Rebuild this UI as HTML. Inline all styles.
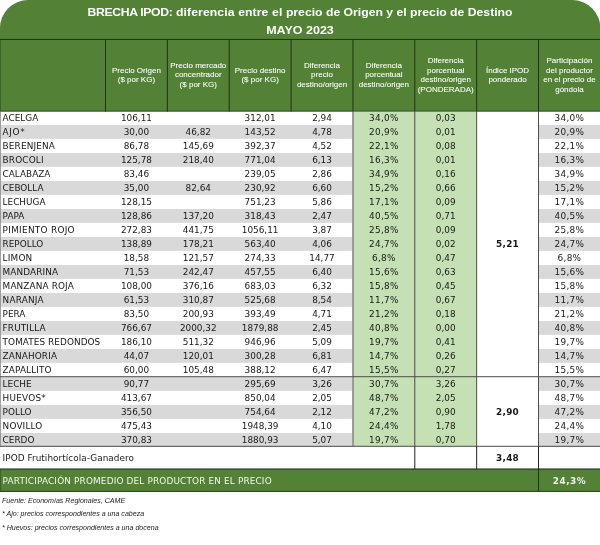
<!DOCTYPE html>
<html lang="es">
<head>
<meta charset="utf-8">
<title>BRECHA IPOD - MAYO 2023</title>
<style>
html,body{margin:0;padding:0;background:#fff;}
body{width:600px;height:545px;overflow:hidden;position:relative;font-family:"DejaVu Sans","Liberation Sans",sans-serif;}
#bg{position:absolute;left:0;top:0;width:600px;height:545px;display:block;}
.title{position:absolute;left:0;width:600px;text-align:center;color:#fff;font-family:"Liberation Sans",sans-serif;font-weight:bold;font-size:11.8px;line-height:16px;white-space:nowrap;transform:scaleX(1.035);transform-origin:300px 0;}
.h{position:absolute;display:flex;align-items:center;justify-content:center;text-align:center;top:39.2px;height:72px;color:#ffffff;font-family:"Liberation Sans",sans-serif;font-size:8.0px;line-height:9.4px;white-space:nowrap;-webkit-text-stroke:0.15px rgba(255,255,255,0.5);}
.r{position:absolute;left:0;width:600px;height:14px;line-height:14px;font-size:8.9px;color:#181818;white-space:nowrap;}
.r span{position:absolute;top:0;height:14px;text-align:center;}
.r span.n{text-align:left;padding-left:2.6px;}
.r b{font-weight:bold;letter-spacing:0.3px;}
.tot b{letter-spacing:0.5px;}
.ipod{position:absolute;left:2.6px;top:451px;font-size:8.9px;line-height:14px;color:#181818;white-space:nowrap;}
.tot{position:absolute;top:469.8px;height:22.5px;line-height:22.5px;font-size:8.9px;color:#f2f6ee;white-space:nowrap;}
.fn{position:absolute;left:2px;font-family:"Liberation Sans",sans-serif;font-style:italic;font-size:7.08px;line-height:9px;color:#222;white-space:nowrap;}
</style>
</head>
<body>
<svg id="bg" width="600" height="545" viewBox="0 0 600 545">
<path d="M0,111.6 L0,28 A28,28 0 0 1 28,0 L572.3,0 A28,28 0 0 1 600.3,28 L600.3,111.6 Z" fill="#538135"/>
<rect x="0" y="125" width="351.95" height="13.85" fill="#d9d9d9"/>
<rect x="538.5" y="125" width="61.5" height="13.85" fill="#d9d9d9"/>
<rect x="0" y="153" width="351.95" height="13.85" fill="#d9d9d9"/>
<rect x="538.5" y="153" width="61.5" height="13.85" fill="#d9d9d9"/>
<rect x="0" y="181" width="351.95" height="13.85" fill="#d9d9d9"/>
<rect x="538.5" y="181" width="61.5" height="13.85" fill="#d9d9d9"/>
<rect x="0" y="209" width="351.95" height="13.85" fill="#d9d9d9"/>
<rect x="538.5" y="209" width="61.5" height="13.85" fill="#d9d9d9"/>
<rect x="0" y="237" width="351.95" height="13.85" fill="#d9d9d9"/>
<rect x="538.5" y="237" width="61.5" height="13.85" fill="#d9d9d9"/>
<rect x="0" y="265" width="351.95" height="13.85" fill="#d9d9d9"/>
<rect x="538.5" y="265" width="61.5" height="13.85" fill="#d9d9d9"/>
<rect x="0" y="293" width="351.95" height="13.85" fill="#d9d9d9"/>
<rect x="538.5" y="293" width="61.5" height="13.85" fill="#d9d9d9"/>
<rect x="0" y="321" width="351.95" height="13.85" fill="#d9d9d9"/>
<rect x="538.5" y="321" width="61.5" height="13.85" fill="#d9d9d9"/>
<rect x="0" y="349" width="351.95" height="13.85" fill="#d9d9d9"/>
<rect x="538.5" y="349" width="61.5" height="13.85" fill="#d9d9d9"/>
<rect x="0" y="377" width="351.95" height="13.85" fill="#d9d9d9"/>
<rect x="538.5" y="377" width="61.5" height="13.85" fill="#d9d9d9"/>
<rect x="0" y="405" width="351.95" height="13.85" fill="#d9d9d9"/>
<rect x="538.5" y="405" width="61.5" height="13.85" fill="#d9d9d9"/>
<rect x="0" y="433" width="351.95" height="13.85" fill="#d9d9d9"/>
<rect x="538.5" y="433" width="61.5" height="13.85" fill="#d9d9d9"/>
<rect x="352.95" y="111.6" width="123.7" height="334.7" fill="#c5e0b4"/>
<rect x="0" y="468.9" width="600" height="22.8" fill="#538135"/>
<rect x="0" y="110.4" width="600" height="1.2" fill="#41642e"/>
<rect x="0" y="38.95" width="600" height="1" fill="#1f3516"/>
<rect x="105" y="39" width="1" height="72.6" fill="#1f3516"/>
<rect x="166.86" y="39" width="1" height="72.6" fill="#1f3516"/>
<rect x="228.7" y="39" width="1" height="72.6" fill="#1f3516"/>
<rect x="290.6" y="39" width="1" height="72.6" fill="#1f3516"/>
<rect x="352.45" y="39" width="1" height="72.6" fill="#1f3516"/>
<rect x="414.3" y="39" width="1" height="72.6" fill="#1f3516"/>
<rect x="476.15" y="39" width="1" height="72.6" fill="#1f3516"/>
<rect x="538" y="39" width="1" height="72.6" fill="#1f3516"/>
<rect x="0" y="39" width="0.7" height="72.6" fill="#1f3516" opacity="0.6"/>
<rect x="352.45" y="111.6" width="1" height="334.7" fill="#4e4e4e"/>
<rect x="414.3" y="111.6" width="1" height="334.7" fill="#4e4e4e"/>
<rect x="476.15" y="111.6" width="1" height="334.7" fill="#4e4e4e"/>
<rect x="538" y="111.6" width="1" height="334.7" fill="#4e4e4e"/>
<rect x="0" y="111.6" width="0.8" height="335.2" fill="#8a8a8a"/>
<rect x="0" y="376.2" width="600" height="1" fill="#4e4e4e"/>
<rect x="0" y="445.8" width="600" height="1" fill="#4e4e4e"/>
<rect x="414.3" y="446.3" width="1" height="22.7" fill="#222222"/>
<rect x="476.15" y="446.3" width="1" height="22.7" fill="#222222"/>
<rect x="538" y="446.3" width="1" height="22.7" fill="#222222"/>
<rect x="0" y="468.5" width="600" height="1.1" fill="#1f3516"/>
<rect x="0" y="490.9" width="600" height="0.9" fill="#1f3516"/>
<rect x="538" y="469" width="1" height="22.7" fill="#1f3516"/>
<rect x="0" y="469" width="0.7" height="22.7" fill="#1f3516" opacity="0.6"/>
</svg>
<div class="title" style="top:4.2px"><span style="letter-spacing:-0.33px">BRECHA IPOD:</span><span style="letter-spacing:0.1px"> diferencia entre el </span>precio de Origen y el precio de Destino</div>
<div class="title" style="top:22.3px;transform:scaleX(1.06)">MAYO 2023</div>
<div class="h" style="left:105.5px;width:61.86px"><div>Precio Origen<br>($ por KG)</div></div>
<div class="h" style="left:167.36px;width:61.84px"><div>Precio mercado<br>concentrador<br>($ por KG)</div></div>
<div class="h" style="left:229.2px;width:61.9px"><div>Precio destino<br>($ por KG)</div></div>
<div class="h" style="left:291.1px;width:61.85px"><div>Diferencia<br>precio<br>destino/origen</div></div>
<div class="h" style="left:352.95px;width:61.85px"><div>Diferencia<br>porcentual<br>destino/origen</div></div>
<div class="h" style="left:414.8px;width:61.85px"><div>Diferencia<br>porcentual<br>destino/origen<br>(PONDERADA)</div></div>
<div class="h" style="left:476.65px;width:61.85px"><div>Índice IPOD<br>ponderado</div></div>
<div class="h" style="left:538.5px;width:61.9px"><div>Participación<br>del productor<br>en el precio de<br>góndola</div></div>
<div class="r" style="top:111px"><span class="n" style="left:0;letter-spacing:0.000px">ACELGA</span><span style="left:105.5px;width:61.86px">106,11</span><span style="left:229.2px;width:61.9px">312,01</span><span style="left:291.1px;width:61.85px">2,94</span><span style="left:352.95px;width:61.85px;letter-spacing:0.3px">34,0%</span><span style="left:414.8px;width:61.85px">0,03</span><span style="left:538.5px;width:61.9px;letter-spacing:0.3px">34,0%</span></div>
<div class="r" style="top:125px"><span class="n" style="left:0;letter-spacing:0.659px">AJO*</span><span style="left:105.5px;width:61.86px">30,00</span><span style="left:167.36px;width:61.84px">46,82</span><span style="left:229.2px;width:61.9px">143,52</span><span style="left:291.1px;width:61.85px">4,78</span><span style="left:352.95px;width:61.85px;letter-spacing:0.3px">20,9%</span><span style="left:414.8px;width:61.85px">0,01</span><span style="left:538.5px;width:61.9px;letter-spacing:0.3px">20,9%</span></div>
<div class="r" style="top:139px"><span class="n" style="left:0;letter-spacing:0.158px">BERENJENA</span><span style="left:105.5px;width:61.86px">86,78</span><span style="left:167.36px;width:61.84px">145,69</span><span style="left:229.2px;width:61.9px">392,37</span><span style="left:291.1px;width:61.85px">4,52</span><span style="left:352.95px;width:61.85px;letter-spacing:0.3px">22,1%</span><span style="left:414.8px;width:61.85px">0,08</span><span style="left:538.5px;width:61.9px;letter-spacing:0.3px">22,1%</span></div>
<div class="r" style="top:153px"><span class="n" style="left:0;letter-spacing:0.160px">BROCOLI</span><span style="left:105.5px;width:61.86px">125,78</span><span style="left:167.36px;width:61.84px">218,40</span><span style="left:229.2px;width:61.9px">771,04</span><span style="left:291.1px;width:61.85px">6,13</span><span style="left:352.95px;width:61.85px;letter-spacing:0.3px">16,3%</span><span style="left:414.8px;width:61.85px">0,01</span><span style="left:538.5px;width:61.9px;letter-spacing:0.3px">16,3%</span></div>
<div class="r" style="top:167px"><span class="n" style="left:0;letter-spacing:0.000px">CALABAZA</span><span style="left:105.5px;width:61.86px">83,46</span><span style="left:229.2px;width:61.9px">239,05</span><span style="left:291.1px;width:61.85px">2,86</span><span style="left:352.95px;width:61.85px;letter-spacing:0.3px">34,9%</span><span style="left:414.8px;width:61.85px">0,16</span><span style="left:538.5px;width:61.9px;letter-spacing:0.3px">34,9%</span></div>
<div class="r" style="top:181px"><span class="n" style="left:0;letter-spacing:0.000px">CEBOLLA</span><span style="left:105.5px;width:61.86px">35,00</span><span style="left:167.36px;width:61.84px">82,64</span><span style="left:229.2px;width:61.9px">230,92</span><span style="left:291.1px;width:61.85px">6,60</span><span style="left:352.95px;width:61.85px;letter-spacing:0.3px">15,2%</span><span style="left:414.8px;width:61.85px">0,66</span><span style="left:538.5px;width:61.9px;letter-spacing:0.3px">15,2%</span></div>
<div class="r" style="top:195px"><span class="n" style="left:0;letter-spacing:0.000px">LECHUGA</span><span style="left:105.5px;width:61.86px">128,15</span><span style="left:229.2px;width:61.9px">751,23</span><span style="left:291.1px;width:61.85px">5,86</span><span style="left:352.95px;width:61.85px;letter-spacing:0.3px">17,1%</span><span style="left:414.8px;width:61.85px">0,09</span><span style="left:538.5px;width:61.9px;letter-spacing:0.3px">17,1%</span></div>
<div class="r" style="top:209px"><span class="n" style="left:0;letter-spacing:0.000px">PAPA</span><span style="left:105.5px;width:61.86px">128,86</span><span style="left:167.36px;width:61.84px">137,20</span><span style="left:229.2px;width:61.9px">318,43</span><span style="left:291.1px;width:61.85px">2,47</span><span style="left:352.95px;width:61.85px;letter-spacing:0.3px">40,5%</span><span style="left:414.8px;width:61.85px">0,71</span><span style="left:538.5px;width:61.9px;letter-spacing:0.3px">40,5%</span></div>
<div class="r" style="top:223px"><span class="n" style="left:0;letter-spacing:0.295px">PIMIENTO ROJO</span><span style="left:105.5px;width:61.86px">272,83</span><span style="left:167.36px;width:61.84px">441,75</span><span style="left:229.2px;width:61.9px">1056,11</span><span style="left:291.1px;width:61.85px">3,87</span><span style="left:352.95px;width:61.85px;letter-spacing:0.3px">25,8%</span><span style="left:414.8px;width:61.85px">0,09</span><span style="left:538.5px;width:61.9px;letter-spacing:0.3px">25,8%</span></div>
<div class="r" style="top:237px"><span class="n" style="left:0;letter-spacing:0.000px">REPOLLO</span><span style="left:105.5px;width:61.86px">138,89</span><span style="left:167.36px;width:61.84px">178,21</span><span style="left:229.2px;width:61.9px">563,40</span><span style="left:291.1px;width:61.85px">4,06</span><span style="left:352.95px;width:61.85px;letter-spacing:0.3px">24,7%</span><span style="left:414.8px;width:61.85px">0,02</span><span style="left:476.65px;width:61.85px"><b>5,21</b></span><span style="left:538.5px;width:61.9px;letter-spacing:0.3px">24,7%</span></div>
<div class="r" style="top:251px"><span class="n" style="left:0;letter-spacing:0.189px">LIMON</span><span style="left:105.5px;width:61.86px">18,58</span><span style="left:167.36px;width:61.84px">121,57</span><span style="left:229.2px;width:61.9px">274,33</span><span style="left:291.1px;width:61.85px">14,77</span><span style="left:352.95px;width:61.85px;letter-spacing:0.3px">6,8%</span><span style="left:414.8px;width:61.85px">0,47</span><span style="left:538.5px;width:61.9px;letter-spacing:0.3px">6,8%</span></div>
<div class="r" style="top:265px"><span class="n" style="left:0;letter-spacing:0.105px">MANDARINA</span><span style="left:105.5px;width:61.86px">71,53</span><span style="left:167.36px;width:61.84px">242,47</span><span style="left:229.2px;width:61.9px">457,55</span><span style="left:291.1px;width:61.85px">6,40</span><span style="left:352.95px;width:61.85px;letter-spacing:0.3px">15,6%</span><span style="left:414.8px;width:61.85px">0,63</span><span style="left:538.5px;width:61.9px;letter-spacing:0.3px">15,6%</span></div>
<div class="r" style="top:279px"><span class="n" style="left:0;letter-spacing:0.129px">MANZANA ROJA</span><span style="left:105.5px;width:61.86px">108,00</span><span style="left:167.36px;width:61.84px">376,16</span><span style="left:229.2px;width:61.9px">683,03</span><span style="left:291.1px;width:61.85px">6,32</span><span style="left:352.95px;width:61.85px;letter-spacing:0.3px">15,8%</span><span style="left:414.8px;width:61.85px">0,45</span><span style="left:538.5px;width:61.9px;letter-spacing:0.3px">15,8%</span></div>
<div class="r" style="top:293px"><span class="n" style="left:0;letter-spacing:0.203px">NARANJA</span><span style="left:105.5px;width:61.86px">61,53</span><span style="left:167.36px;width:61.84px">310,87</span><span style="left:229.2px;width:61.9px">525,68</span><span style="left:291.1px;width:61.85px">8,54</span><span style="left:352.95px;width:61.85px;letter-spacing:0.3px">11,7%</span><span style="left:414.8px;width:61.85px">0,67</span><span style="left:538.5px;width:61.9px;letter-spacing:0.3px">11,7%</span></div>
<div class="r" style="top:307px"><span class="n" style="left:0;letter-spacing:0.000px">PERA</span><span style="left:105.5px;width:61.86px">83,50</span><span style="left:167.36px;width:61.84px">200,93</span><span style="left:229.2px;width:61.9px">393,49</span><span style="left:291.1px;width:61.85px">4,71</span><span style="left:352.95px;width:61.85px;letter-spacing:0.3px">21,2%</span><span style="left:414.8px;width:61.85px">0,18</span><span style="left:538.5px;width:61.9px;letter-spacing:0.3px">21,2%</span></div>
<div class="r" style="top:321px"><span class="n" style="left:0;letter-spacing:0.146px">FRUTILLA</span><span style="left:105.5px;width:61.86px">766,67</span><span style="left:167.36px;width:61.84px">2000,32</span><span style="left:229.2px;width:61.9px">1879,88</span><span style="left:291.1px;width:61.85px">2,45</span><span style="left:352.95px;width:61.85px;letter-spacing:0.3px">40,8%</span><span style="left:414.8px;width:61.85px">0,00</span><span style="left:538.5px;width:61.9px;letter-spacing:0.3px">40,8%</span></div>
<div class="r" style="top:335px"><span class="n" style="left:0;letter-spacing:0.068px">TOMATES REDONDOS</span><span style="left:105.5px;width:61.86px">186,10</span><span style="left:167.36px;width:61.84px">511,32</span><span style="left:229.2px;width:61.9px">946,96</span><span style="left:291.1px;width:61.85px">5,09</span><span style="left:352.95px;width:61.85px;letter-spacing:0.3px">19,7%</span><span style="left:414.8px;width:61.85px">0,41</span><span style="left:538.5px;width:61.9px;letter-spacing:0.3px">19,7%</span></div>
<div class="r" style="top:349px"><span class="n" style="left:0;letter-spacing:0.125px">ZANAHORIA</span><span style="left:105.5px;width:61.86px">44,07</span><span style="left:167.36px;width:61.84px">120,01</span><span style="left:229.2px;width:61.9px">300,28</span><span style="left:291.1px;width:61.85px">6,81</span><span style="left:352.95px;width:61.85px;letter-spacing:0.3px">14,7%</span><span style="left:414.8px;width:61.85px">0,26</span><span style="left:538.5px;width:61.9px;letter-spacing:0.3px">14,7%</span></div>
<div class="r" style="top:363px"><span class="n" style="left:0;letter-spacing:0.130px">ZAPALLITO</span><span style="left:105.5px;width:61.86px">60,00</span><span style="left:167.36px;width:61.84px">105,48</span><span style="left:229.2px;width:61.9px">388,12</span><span style="left:291.1px;width:61.85px">6,47</span><span style="left:352.95px;width:61.85px;letter-spacing:0.3px">15,5%</span><span style="left:414.8px;width:61.85px">0,27</span><span style="left:538.5px;width:61.9px;letter-spacing:0.3px">15,5%</span></div>
<div class="r" style="top:377px"><span class="n" style="left:0;letter-spacing:0.000px">LECHE</span><span style="left:105.5px;width:61.86px">90,77</span><span style="left:229.2px;width:61.9px">295,69</span><span style="left:291.1px;width:61.85px">3,26</span><span style="left:352.95px;width:61.85px;letter-spacing:0.3px">30,7%</span><span style="left:414.8px;width:61.85px">3,26</span><span style="left:538.5px;width:61.9px;letter-spacing:0.3px">30,7%</span></div>
<div class="r" style="top:391px"><span class="n" style="left:0;letter-spacing:0.235px">HUEVOS*</span><span style="left:105.5px;width:61.86px">413,67</span><span style="left:229.2px;width:61.9px">850,04</span><span style="left:291.1px;width:61.85px">2,05</span><span style="left:352.95px;width:61.85px;letter-spacing:0.3px">48,7%</span><span style="left:414.8px;width:61.85px">2,05</span><span style="left:538.5px;width:61.9px;letter-spacing:0.3px">48,7%</span></div>
<div class="r" style="top:405px"><span class="n" style="left:0;letter-spacing:0.000px">POLLO</span><span style="left:105.5px;width:61.86px">356,50</span><span style="left:229.2px;width:61.9px">754,64</span><span style="left:291.1px;width:61.85px">2,12</span><span style="left:352.95px;width:61.85px;letter-spacing:0.3px">47,2%</span><span style="left:414.8px;width:61.85px">0,90</span><span style="left:476.65px;width:61.85px"><b>2,90</b></span><span style="left:538.5px;width:61.9px;letter-spacing:0.3px">47,2%</span></div>
<div class="r" style="top:419px"><span class="n" style="left:0;letter-spacing:0.160px">NOVILLO</span><span style="left:105.5px;width:61.86px">475,43</span><span style="left:229.2px;width:61.9px">1948,39</span><span style="left:291.1px;width:61.85px">4,10</span><span style="left:352.95px;width:61.85px;letter-spacing:0.3px">24,4%</span><span style="left:414.8px;width:61.85px">1,78</span><span style="left:538.5px;width:61.9px;letter-spacing:0.3px">24,4%</span></div>
<div class="r" style="top:433px"><span class="n" style="left:0;letter-spacing:0.000px">CERDO</span><span style="left:105.5px;width:61.86px">370,83</span><span style="left:229.2px;width:61.9px">1880,93</span><span style="left:291.1px;width:61.85px">5,07</span><span style="left:352.95px;width:61.85px;letter-spacing:0.3px">19,7%</span><span style="left:414.8px;width:61.85px">0,70</span><span style="left:538.5px;width:61.9px;letter-spacing:0.3px">19,7%</span></div>
<div class="ipod" style="letter-spacing:0.05px">IPOD Frutihortícola-Ganadero</div>
<div class="r" style="top:451px"><span style="left:476.65px;width:61.85px"><b>3,48</b></span></div>
<div class="tot" style="left:2.6px;letter-spacing:0.163px">PARTICIPACIÓN PROMEDIO DEL PRODUCTOR EN EL PRECIO</div>
<div class="tot" style="left:538.5px;width:61.9px;text-align:center"><b>24,3%</b></div>
<div class="fn" style="top:496.8px">Fuente: Economías Regionales, CAME</div>
<div class="fn" style="top:510.2px">* Ajo: precios correspondientes a una cabeza</div>
<div class="fn" style="top:524.3px">* Huevos: precios correspondientes a una docena</div>
</body>
</html>
